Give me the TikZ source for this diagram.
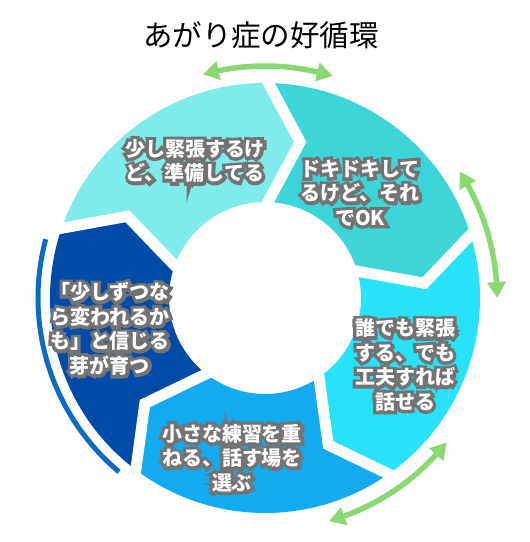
\documentclass[tikz,border=0pt]{standalone}
\usepackage{fontspec}
\newfontfamily\jpfont{Noto Sans CJK JP}
\newfontfamily\jpout[FakeBold=32]{Noto Sans CJK JP}
\usetikzlibrary{arrows.meta,bending}
\definecolor{segA}{HTML}{3CD6D9}
\definecolor{segB}{HTML}{28E2FA}
\definecolor{segC}{HTML}{12ABF0}
\definecolor{segD}{HTML}{004BA8}
\definecolor{segE}{HTML}{80ECE9}
\definecolor{arcblue}{HTML}{0B6CC2}
\definecolor{cycgreen}{HTML}{8AD873}
\definecolor{olgray}{HTML}{737373}
\begin{document}
\begin{tikzpicture}[x=1pt,y=1pt,
  seglabel/.style={text=white, align=center, inner sep=0pt,
    font=\jpfont\bfseries\fontsize{20}{24.5}\selectfont},
  segoutline/.style={text=olgray, align=center, inner sep=0pt,
    font=\jpout\bfseries\fontsize{20}{24.5}\selectfont},
  gapline/.style={white, line width=11pt, line join=miter},
  cyclearrow/.style={cycgreen, line width=5.5pt,
    {Triangle[length=16pt,width=18pt,bend]}-{Triangle[length=16pt,width=18pt,bend]}},
]
\useasboundingbox (0,0) rectangle (530,542);
\node[font=\jpfont\fontsize{29.5}{32}\selectfont] (title) at (261,507) {あがり症の好循環};
\begin{scope}[shift={(265,244)}]
  \def\R{215}\def\r{96}\def\Rm{160}\def\dl{12.5}
  \def\Ro{220}\def\ri{91}
  \foreach \k/\c in {0/segA,1/segB,2/segC,3/segD,4/segE}{
    \pgfmathsetmacro\a{89.8-72*\k}
    \pgfmathsetmacro\b{\a-72}
    \pgfmathsetmacro\at{\a-\dl}
    \pgfmathsetmacro\bt{\b-\dl}
    \fill[\c] (\a:\R) arc[start angle=\a, end angle=\b, radius=\R]
      -- (\bt:\Rm) -- (\b:\r) arc[start angle=\b, end angle=\a, radius=\r]
      -- (\at:\Rm) -- cycle;
  }
  \foreach \k in {0,...,4}{
    \pgfmathsetmacro\a{89.8-72*\k}
    \pgfmathsetmacro\at{\a-\dl}
    \draw[gapline] (\a:\Ro) -- (\at:\Rm) -- (\a:\ri);
  }
  \draw[arcblue, line width=5pt] (165:227) arc[start angle=165, end angle=230, radius=227];
  \draw[cyclearrow] (105.5:232) arc[start angle=105.5, end angle=73, radius=232];
  \draw[cyclearrow] (33:232) arc[start angle=33, end angle=0, radius=232];
  \draw[cyclearrow] (-38.5:232) arc[start angle=-38.5, end angle=-74, radius=232];
\end{scope}
\node[segoutline] (o1) at (195,381) {少し緊張するけ\\ど、準備してる};
\node[seglabel] (t1) at (o1) {少し緊張するけ\\ど、準備してる};
\node[segoutline] (o2) at (360,349) {ドキドキして\\るけど、それ\\でOK};
\node[seglabel] (t2) at (o2) {ドキドキして\\るけど、それ\\でOK};
\node[segoutline] (o3) at (405,177) {誰でも緊張\\する、でも\\工夫すれば\\話せる};
\node[seglabel] (t3) at (o3) {誰でも緊張\\する、でも\\工夫すれば\\話せる};
\node[segoutline] (o4) at (232,84) {小さな練習を重\\ねる、話す場を\\選ぶ};
\node[seglabel] (t4) at (o4) {小さな練習を重\\ねる、話す場を\\選ぶ};
\node[segoutline] (o5) at (110,213) {「少しずつな\\ら変われるか\\も」と信じる\\芽が育つ};
\node[seglabel] (t5) at (o5) {「少しずつな\\ら変われるか\\も」と信じる\\芽が育つ};
\end{tikzpicture}
\end{document}
